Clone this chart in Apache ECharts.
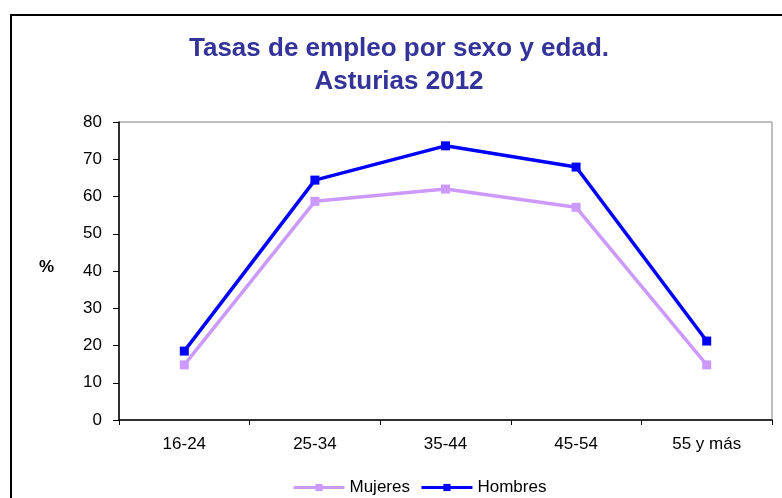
<!DOCTYPE html>
<html>
<head>
<meta charset="utf-8">
<script src="https://cdn.jsdelivr.net/npm/echarts@6/dist/echarts.min.js"></script>
<style>
  html, body { margin: 0; padding: 0; background: #fff; }
  #chart { width: 782px; height: 498px; }
</style>
</head>
<body>
<div id="chart"></div>
<script>
// grupos de edad
const categories = ["16-24", "25-34", "35-44", "45-54", "55 y más"];
// tasas de empleo (%)
const mujeres = [14.8, 58.7, 62.0, 57.1, 14.8];
const hombres = [18.5, 64.4, 73.6, 67.9, 21.2];

const font = "Liberation Sans, Arial, sans-serif";

const myChart = echarts.init(document.getElementById("chart"));
const options = {
  backgroundColor: "#fff",
  animation: false,
  title: {
    text: "Tasas de empleo por sexo y edad.\nAsturias 2012",
    left: 399,
    top: 32,
    padding: 0,
    textAlign: "center",
    textStyle: {
      fontFamily: font,
      fontSize: 26,
      fontWeight: "bold",
      color: "#333399",
      lineHeight: 33,
    },
  },
  graphic: [
    {
      type: "rect",
      shape: { x: 11, y: 15, width: 800, height: 500 },
      style: { fill: null, stroke: "#000", lineWidth: 2 },
      z: 100,
    },
  ],
  legend: {
    left: 287,
    top: 474,
    itemWidth: 51,
    itemHeight: 9,
    itemGap: 10,
    lineStyle: { width: 3 },
    textStyle: { fontFamily: font, fontSize: 17, color: "#000" },
    data: ["Mujeres", "Hombres"],
  },
  grid: {
    left: 119,
    right: 10,
    top: 122,
    bottom: 78,
    show: true,
    borderColor: "#808080",
    borderWidth: 1,
  },
  xAxis: {
    type: "category",
    data: categories,
    boundaryGap: true,
    axisLine: { lineStyle: { color: "#000", width: 1.5 } },
    axisTick: { show: true, length: 5, lineStyle: { color: "#000" } },
    axisLabel: { fontFamily: font, fontSize: 17, color: "#000", margin: 16 },
  },
  yAxis: {
    type: "value",
    min: 0,
    max: 80,
    interval: 10,
    name: "%",
    nameLocation: "middle",
    nameRotate: 0,
    nameGap: 65,
    nameTextStyle: {
      fontFamily: font,
      fontSize: 17,
      fontWeight: "bold",
      color: "#000",
      verticalAlign: "bottom",
      lineHeight: 8,
    },
    splitLine: { show: false },
    axisLine: { show: true, lineStyle: { color: "#000", width: 1.5 } },
    axisTick: { show: true, length: 6, lineStyle: { color: "#000" } },
    axisLabel: { fontFamily: font, fontSize: 17, color: "#000", margin: 17 },
  },
  series: [
    {
      name: "Mujeres",
      type: "line",
      data: mujeres,
      symbol: "rect",
      symbolSize: 9,
      color: "#CC99FF",
      lineStyle: { width: 3.5, color: "#CC99FF" },
      itemStyle: { color: "#CC99FF" },
    },
    {
      name: "Hombres",
      type: "line",
      data: hombres,
      symbol: "rect",
      symbolSize: 9,
      color: "#0000FF",
      lineStyle: { width: 3.5, color: "#0000FF" },
      itemStyle: { color: "#0000FF" },
    },
  ],
};
myChart.setOption(options);
</script>
</body>
</html>
